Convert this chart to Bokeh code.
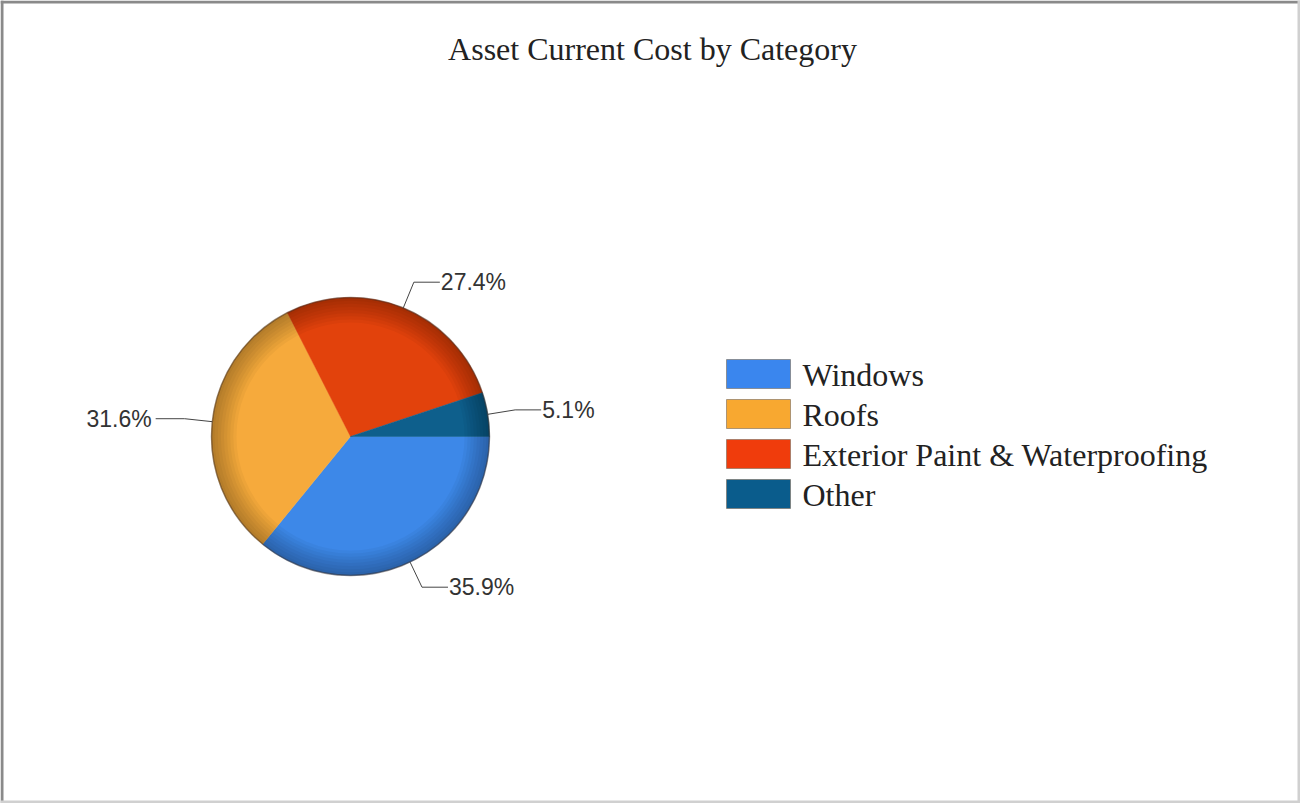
import math
from bokeh.plotting import figure
from bokeh.models import Range1d
from bokeh.core.properties import value
from bokeh.embed import file_html
from bokeh.resources import INLINE

# ---- data ----
categories = ["Windows", "Roofs", "Exterior Paint & Waterproofing", "Other"]
shares = [35.9, 31.6, 27.4, 5.1]
slice_colors = ["#3d88e8", "#f6aa3c", "#e2420c", "#0e5f8c"]
legend_colors = ["#3a86ee", "#f8a830", "#f03c0c", "#0a5c8c"]
title_text = "Asset Current Cost by Category"

# ---- layout ----
W, H = 1300, 803
CX, CY, R = 350, 803 - 436, 139

p = figure(width=W, height=H, x_range=Range1d(0, W), y_range=Range1d(0, H),
           output_backend="svg", toolbar_location=None, min_border=0)
p.axis.visible = False
p.grid.visible = False
p.outline_line_color = None
p.background_fill_color = "white"
p.border_fill_color = "white"

# frame
p.quad(left=[0], right=[3], bottom=[0], top=[H], fill_color="#8a8a8a", line_color=None)
p.quad(left=[0], right=[W], bottom=[H - 3], top=[H], fill_color="#8a8a8a", line_color=None)
p.quad(left=[W - 3], right=[W], bottom=[0], top=[H], fill_color="#d0d0d0", line_color=None)
p.quad(left=[0], right=[W], bottom=[0], top=[3], fill_color="#d0d0d0", line_color=None)

# title
p.text(x=[652], y=[H - 48], text=[title_text], text_font=value("Liberation Serif"),
       text_font_size="32px", text_color="#222222", text_align="center", text_baseline="middle")

# pie
total = sum(shares)
starts, ends, mids = [], [], []
cum = 0.0
for s in shares:
    a0 = -cum / total * 2 * math.pi
    cum += s
    a1 = -cum / total * 2 * math.pi
    starts.append(a0)
    ends.append(a1)
    mids.append((a0 + a1) / 2)

p.wedge(x=[CX] * 4, y=[CY] * 4, radius=R, start_angle=starts, end_angle=ends,
        direction="clock", fill_color=slice_colors, line_color=slice_colors, line_width=0.5)

# rim shading
nring = 8
for i in range(nring):
    r_in = R * (0.82 + 0.18 * i / nring)
    p.annular_wedge(x=[CX], y=[CY], inner_radius=r_in, outer_radius=R,
                    start_angle=0, end_angle=2 * math.pi,
                    fill_color="black", fill_alpha=0.035, line_color=None)
p.circle(x=[CX], y=[CY], radius=R, fill_color=None, line_color="#3a2a20", line_alpha=0.5, line_width=1.5)

# labels with leaders
for s, m in zip(shares, mids):
    ex, ey = CX + R * math.cos(m), CY + R * math.sin(m)
    bx, by = CX + R * 1.2 * math.cos(m), CY + R * 1.2 * math.sin(m)
    right = math.cos(m) >= 0
    hx = bx + (26 if right else -29)
    p.line(x=[ex, bx, hx], y=[ey, by, by], line_color="#444444", line_width=1)
    p.text(x=[hx + (1 if right else -4)], y=[by], text=[f"{s:.1f}%"],
           text_font=value("Liberation Sans"), text_font_size="23px", text_color="#333333",
           text_align="left" if right else "right", text_baseline="middle")

# legend
LX, LY0, BW, BH, DY = 726, H - 359, 64, 29, 40
for i, (c, name) in enumerate(zip(legend_colors, categories)):
    top = LY0 - i * DY
    p.quad(left=[LX], right=[LX + BW], top=[top], bottom=[top - BH],
           fill_color=c, line_color="#7a6a5a", line_alpha=0.6, line_width=1)
    p.text(x=[802], y=[top - BH / 2 - 1], text=[name], text_font=value("Liberation Serif"),
           text_font_size="32px", text_color="#222222", text_align="left", text_baseline="middle")

open("out.html", "w").write(file_html(p, INLINE))
